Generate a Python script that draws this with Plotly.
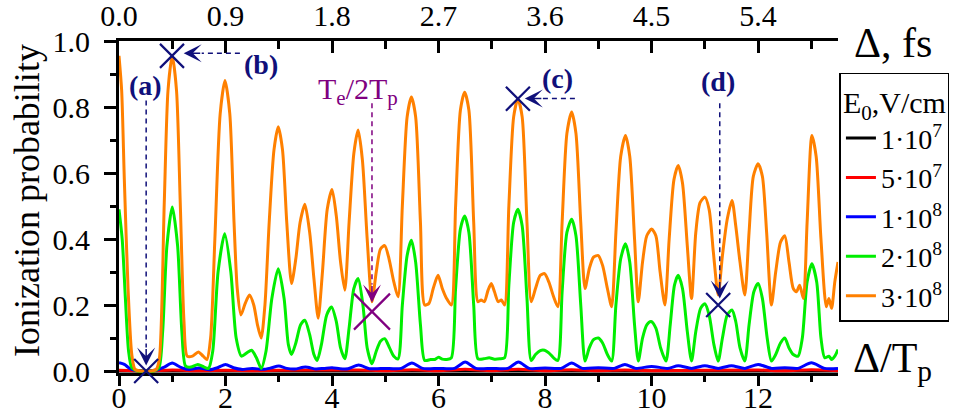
import plotly.graph_objects as go

# ---------------- data ----------------
TP_FS = 0.45  # one period Tp in fs (0.9 fs <-> 2 Tp)
x_range = [0, 13.5]

orange_x = [0.0, 0.05, 0.1, 0.17, 0.24, 0.3, 0.4, 0.5, 0.6, 0.7, 0.76, 0.85, 0.92, 1.0, 1.08, 1.15, 1.22, 1.28,
            1.38, 1.49, 1.58, 1.65, 1.72, 1.8, 1.9, 1.99, 2.08, 2.16, 2.22, 2.29, 2.37, 2.45, 2.53, 2.6, 2.67,
            2.74, 2.82, 2.91, 2.99, 3.07, 3.15, 3.24, 3.32, 3.4, 3.49, 3.58, 3.66, 3.74, 3.82, 3.91, 4.0, 4.08,
            4.16, 4.24, 4.32, 4.41, 4.49, 4.57, 4.66, 4.75, 4.83, 4.91, 4.99, 5.07, 5.16, 5.24, 5.32, 5.41, 5.49,
            5.57, 5.66, 5.74, 5.82, 5.9, 5.99, 6.07, 6.15, 6.24, 6.32, 6.41, 6.49, 6.57, 6.66, 6.74, 6.8, 6.86,
            6.93, 6.99, 7.05, 7.12, 7.18, 7.24, 7.32, 7.41, 7.49, 7.57, 7.66, 7.74, 7.82, 7.91, 7.99, 8.07, 8.16,
            8.24, 8.32, 8.41, 8.5, 8.58, 8.67, 8.75, 8.83, 8.91, 9.0, 9.08, 9.17, 9.25, 9.33, 9.42, 9.51, 9.59,
            9.68, 9.75, 9.83, 9.91, 10.0, 10.08, 10.16, 10.25, 10.33, 10.42, 10.5, 10.58, 10.67, 10.75, 10.83,
            10.91, 11.0, 11.08, 11.16, 11.25, 11.33, 11.42, 11.51, 11.58, 11.66, 11.75, 11.83, 11.91, 12.0, 12.08,
            12.16, 12.25, 12.33, 12.42, 12.5, 12.58, 12.66, 12.72, 12.78, 12.85, 12.92, 13.01, 13.09, 13.18,
            13.28, 13.33, 13.38, 13.44, 13.5]
orange_y = [0.955, 0.85, 0.58, 0.25, 0.05, 0.005, 0.0, 0.0, 0.0, 0.005, 0.04, 0.51, 0.85, 0.955, 0.85, 0.51, 0.15, 0.045,
            0.045, 0.058, 0.045, 0.035, 0.1, 0.4, 0.78, 0.88, 0.78, 0.45, 0.25, 0.17, 0.205, 0.23, 0.2, 0.14, 0.1,
            0.2, 0.45, 0.67, 0.74, 0.67, 0.45, 0.265, 0.34, 0.45, 0.505, 0.42, 0.28, 0.16, 0.3, 0.49, 0.55, 0.47,
            0.33, 0.245, 0.45, 0.66, 0.73, 0.64, 0.4, 0.21, 0.3, 0.37, 0.38, 0.34, 0.27, 0.225, 0.5, 0.77, 0.83,
            0.77, 0.45, 0.2, 0.205, 0.25, 0.29, 0.25, 0.22, 0.2, 0.5, 0.79, 0.845, 0.79, 0.45, 0.21, 0.215, 0.21,
            0.245, 0.265, 0.24, 0.21, 0.215, 0.2, 0.5, 0.77, 0.825, 0.77, 0.45, 0.21, 0.25, 0.29, 0.295, 0.27, 0.225,
            0.195, 0.45, 0.72, 0.785, 0.72, 0.45, 0.25, 0.31, 0.345, 0.35, 0.32, 0.25, 0.195, 0.42, 0.65, 0.714, 0.65,
            0.4, 0.21, 0.33, 0.41, 0.43, 0.41, 0.3, 0.2, 0.4, 0.58, 0.623, 0.57, 0.38, 0.22, 0.42,
            0.51, 0.527, 0.49, 0.36, 0.23, 0.35, 0.46, 0.517, 0.44, 0.33, 0.23, 0.42, 0.59, 0.628, 0.59,
            0.42, 0.2, 0.3, 0.39, 0.41, 0.33, 0.25, 0.24, 0.26, 0.22, 0.45, 0.714, 0.65, 0.4,
            0.195, 0.22, 0.19, 0.27, 0.33]

green_x = [0.0, 0.06, 0.12, 0.18, 0.24, 0.35, 0.5, 0.65, 0.75, 0.82, 0.9, 1.0, 1.1, 1.18, 1.25, 1.35, 1.48, 1.6, 1.68,
           1.76, 1.86, 1.985, 2.1, 2.2, 2.3, 2.4, 2.49, 2.58, 2.67, 2.76, 2.87, 2.99, 3.1, 3.18, 3.24, 3.32, 3.41,
           3.49, 3.58, 3.66, 3.72, 3.8, 3.9, 3.99, 4.08, 4.16, 4.24, 4.32, 4.41, 4.49, 4.58, 4.66, 4.75, 4.83, 4.91,
           4.99, 5.08, 5.16, 5.24, 5.32, 5.41, 5.49, 5.57, 5.66, 5.74, 5.85, 5.93, 6.0, 6.07, 6.15, 6.24, 6.32, 6.41,
           6.49, 6.57, 6.66, 6.74, 6.85, 6.95, 7.05, 7.15, 7.24, 7.32, 7.41, 7.49, 7.57, 7.66, 7.74, 7.82, 7.91,
           7.99, 8.07, 8.16, 8.24, 8.32, 8.41, 8.5, 8.58, 8.67, 8.75, 8.83, 8.91, 9.0, 9.08, 9.17, 9.25, 9.33, 9.42,
           9.51, 9.59, 9.68, 9.75, 9.83, 9.91, 9.99, 10.08, 10.17, 10.27, 10.35, 10.43, 10.5, 10.58, 10.67, 10.75,
           10.83, 10.92, 11.0, 11.08, 11.17, 11.25, 11.33, 11.42, 11.51, 11.58, 11.66, 11.75, 11.83, 11.92, 12.0,
           12.08, 12.17, 12.25, 12.33, 12.42, 12.5, 12.58, 12.66, 12.75, 12.83, 12.92, 13.01, 13.1, 13.18, 13.25,
           13.33, 13.38, 13.44, 13.5]
green_y = [0.49, 0.4, 0.22, 0.06, 0.01, 0.0, 0.0, 0.0, 0.01, 0.12, 0.38, 0.497, 0.38, 0.12, 0.015, 0.012, 0.02, 0.012, 0.008,
           0.06, 0.3, 0.416, 0.3, 0.1, 0.045, 0.055, 0.063, 0.04, 0.008, 0.06, 0.22, 0.31, 0.22, 0.08, 0.05, 0.085, 0.14,
           0.154, 0.11, 0.05, 0.032, 0.08, 0.17, 0.194, 0.15, 0.07, 0.037, 0.13, 0.25, 0.28, 0.2, 0.07, 0.022, 0.06, 0.09,
           0.098, 0.07, 0.045, 0.037, 0.2, 0.35, 0.396, 0.33, 0.14, 0.032, 0.035, 0.035, 0.042, 0.036, 0.035, 0.04, 0.25, 0.43,
           0.47, 0.42, 0.2, 0.037, 0.037, 0.04, 0.036, 0.037, 0.04, 0.26, 0.45, 0.49, 0.44, 0.22, 0.032, 0.05, 0.062,
           0.063, 0.055, 0.04, 0.032, 0.24, 0.42, 0.46, 0.41, 0.2, 0.03, 0.07, 0.095, 0.1, 0.085, 0.05, 0.03, 0.2, 0.34,
           0.386, 0.33, 0.14, 0.03, 0.1, 0.14, 0.15, 0.13, 0.07, 0.03, 0.14, 0.26, 0.29, 0.25, 0.12, 0.03,
           0.12, 0.19, 0.204, 0.17, 0.08, 0.03, 0.1, 0.17, 0.185, 0.15, 0.07, 0.03, 0.14, 0.24, 0.265,
           0.22, 0.1, 0.03, 0.05, 0.085, 0.1, 0.07, 0.05, 0.045, 0.1, 0.27, 0.325, 0.27, 0.1, 0.04,
           0.045, 0.035, 0.045, 0.065]

blue_x = [0.0, 0.1, 0.2, 0.3, 0.5, 0.7, 0.85, 1.0, 1.15, 1.3, 1.5, 1.7, 1.85, 2.0, 2.15, 2.3, 2.5, 2.7, 2.85, 3.0, 3.15,
          3.3, 3.5, 3.7, 3.85, 4.0, 4.15, 4.3, 4.5, 4.7, 4.85, 5.0, 5.15, 5.3, 5.5, 5.7, 6.0, 6.3, 6.5, 6.7, 7.0, 7.3,
          7.5, 7.7, 8.0, 8.3, 8.5, 8.7, 9.0, 9.3, 9.5, 9.7, 10.0, 10.3, 10.5, 10.75, 11.0, 11.25, 11.5, 11.75, 12.0,
          12.25, 12.5, 12.75, 13.0, 13.25, 13.5]
blue_y = [0.025, 0.02, 0.008, 0.002, 0.0, 0.003, 0.012, 0.024, 0.012, 0.005, 0.009, 0.004, 0.01, 0.02, 0.01, 0.005, 0.008,
          0.005, 0.009, 0.015, 0.008, 0.006, 0.012, 0.006, 0.008, 0.01, 0.007, 0.007, 0.018, 0.007, 0.007, 0.008, 0.007,
          0.008, 0.024, 0.008, 0.008, 0.008, 0.027, 0.008, 0.008, 0.008, 0.027, 0.008, 0.009, 0.008, 0.024, 0.008, 0.01,
          0.008, 0.02, 0.008, 0.014, 0.008, 0.016, 0.008, 0.016, 0.008, 0.016, 0.008, 0.02, 0.008, 0.01, 0.008, 0.025,
          0.008, 0.008]

red_x = [0.0, 0.5, 1.0, 1.5, 2.0, 2.5, 3.0, 4.5, 5.0, 5.5, 6.0, 6.5, 7.0, 7.5, 8.0, 8.5, 9.0, 9.5, 10.0, 12.0, 12.5,
         13.0, 13.5]
red_y = [0.002, 0.0, 0.003, 0.001, 0.002, 0.001, 0.002, 0.003, 0.001, 0.004, 0.001, 0.005, 0.001, 0.005, 0.001, 0.004,
         0.001, 0.003, 0.001, 0.003, 0.001, 0.004, 0.001]

black_x = [0.0, 13.5]
black_y = [0.0, 0.0]

series_names = ["1·10<sup>7</sup>", "5·10<sup>7</sup>", "1·10<sup>8</sup>", "2·10<sup>8</sup>", "3·10<sup>8</sup>"]
series_colors = ["#000000", "#ff0000", "#0000ff", "#00ee00", "#ff8000"]

# markers (crosses) and labelled arrows
cross_x = [0.51, 0.995, 7.49, 11.25]
cross_y = [0.0, 0.955, 0.825, 0.2]
te_cross_x = [4.75]
te_cross_y = [0.18]

label_text = ["(a)", "(b)", "(c)", "(d)"]
label_x = [0.50, 2.66, 8.24, 11.24]
label_y = [0.865, 0.93, 0.885, 0.878]
# dashed arrow: start point -> arrow tip
arrow_start_x = [0.51, 2.27, 8.56, 11.28]
arrow_start_y = [0.82, 0.963, 0.826, 0.811]
arrow_tip_x = [0.51, 1.215, 7.62, 11.28]
arrow_tip_y = [0.017, 0.963, 0.826, 0.22]

te_label = "T<sub>e</sub>/2T<sub>p</sub>"
te_label_x, te_label_y = 4.48, 0.85
te_start_y, te_tip_y = 0.811, 0.208

NAVY = "#10107a"
PURPLE = "#800080"
FONT = "Liberation Serif"

# ---------------- figure ----------------
fig = go.Figure()
all_x = [black_x, red_x, blue_x, green_x, orange_x]
all_y = [black_y, red_y, blue_y, green_y, orange_y]
for xs, ys, name, col in zip(all_x, all_y, series_names, series_colors):
    fig.add_trace(go.Scatter(x=xs, y=ys, mode="lines", name=name,
                             line=dict(color=col, width=3, shape="spline", smoothing=0.7)))

fig.add_trace(go.Scatter(x=cross_x, y=cross_y, mode="markers", showlegend=False,
                         marker=dict(symbol="x-thin", size=24, line=dict(width=2.2, color=NAVY)),
                         cliponaxis=False))
fig.add_trace(go.Scatter(x=te_cross_x, y=te_cross_y, mode="markers", showlegend=False,
                         marker=dict(symbol="x-thin", size=36, line=dict(width=2.2, color=PURPLE)),
                         cliponaxis=False))
# invisible trace to carry the top (fs) axis
fig.add_trace(go.Scatter(x=[v * TP_FS for v in x_range], y=[None, None], xaxis="x2",
                         showlegend=False, hoverinfo="skip"))

HEAD = 18  # px length of arrow head


def add_arrow(sx, sy, tx, ty, color):
    # dashed shaft
    if abs(sx - tx) < 1e-9:  # vertical
        end_y = ty + HEAD / 332.0
        fig.add_shape(type="line", x0=sx, y0=sy, x1=tx, y1=end_y, xref="x", yref="y",
                      line=dict(color=color, width=1.5, dash="5px,4px"))
        ax, ay = 0, -HEAD
    else:  # horizontal, pointing left
        end_x = tx + HEAD / 53.25
        fig.add_shape(type="line", x0=sx, y0=sy, x1=end_x, y1=ty, xref="x", yref="y",
                      line=dict(color=color, width=1.5, dash="5px,4px"))
        ax, ay = HEAD, 0
    fig.add_annotation(x=tx, y=ty, ax=ax, ay=ay, text="", showarrow=True, arrowhead=3,
                       arrowsize=2.0, arrowwidth=1.5, arrowcolor=color, standoff=0)


for t, lx, ly, sx, sy, tx, ty in zip(label_text, label_x, label_y, arrow_start_x, arrow_start_y,
                                      arrow_tip_x, arrow_tip_y):
    fig.add_annotation(x=lx, y=ly, text="<b>" + t + "</b>", showarrow=False,
                       font=dict(family=FONT, size=28, color=NAVY))
    add_arrow(sx, sy, tx, ty, NAVY)

fig.add_annotation(x=te_label_x, y=te_label_y, text=te_label, showarrow=False,
                   font=dict(family=FONT, size=30, color=PURPLE))
add_arrow(te_cross_x[0], te_start_y, te_cross_x[0], te_tip_y, PURPLE)

# axis name annotations
fig.add_annotation(xref="paper", yref="paper", x=1.077, y=0.995, text="Δ, fs", showarrow=False,
                   font=dict(family=FONT, size=42, color="black"), xanchor="center", yanchor="middle")
fig.add_annotation(xref="paper", yref="paper", x=1.076, y=0.035, text="Δ/T<sub>p</sub>", showarrow=False,
                   font=dict(family=FONT, size=42, color="black"), xanchor="center", yanchor="middle")
fig.add_annotation(xref="paper", yref="paper", x=-0.127, y=0.52, text="Ionization probability",
                   showarrow=False, textangle=-90,
                   font=dict(family=FONT, size=36, color="black"), xanchor="center", yanchor="middle")

axis_common = dict(showgrid=False, zeroline=False, showline=True, linecolor="black", linewidth=3,
                   automargin=False,
                   tickcolor="black", tickwidth=2.5, tickfont=dict(family=FONT, size=30, color="black"))

fig.update_layout(
    width=960, height=415,
    margin=dict(l=119, r=122, t=41, b=42, autoexpand=False),
    plot_bgcolor="white", paper_bgcolor="white",
    font=dict(family=FONT, color="black"),
    xaxis=dict(range=x_range, dtick=2, tick0=0, ticks="outside", ticklen=10, layer="below traces",
               ticklabelstandoff=-14,
               minor=dict(dtick=1, ticks="outside", ticklen=6, tickwidth=2.5, tickcolor="black"),
               **axis_common),
    xaxis2=dict(range=[v * TP_FS for v in x_range], overlaying="x", side="top", anchor="y",
                dtick=0.9, tick0=0, tickformat=".1f", ticks="inside", ticklen=12,
                minor=dict(dtick=0.45, ticks="inside", ticklen=8, tickwidth=2.5, tickcolor="black"),
                **axis_common),
    yaxis=dict(range=[-0.006, 1.0], dtick=0.2, tick0=0, tickformat=".1f", ticks="outside", ticklen=12,
               ticklabelstandoff=8,
               minor=dict(dtick=0.1, ticks="outside", ticklen=6, tickwidth=2.5, tickcolor="black"),
               **axis_common),
    legend=dict(x=1.002, y=0.904, xanchor="left", yanchor="top", bgcolor="white",
                bordercolor="black", borderwidth=1.5,
                font=dict(family=FONT, size=28, color="black"),
                title=dict(text="E<sub>0</sub>,V/cm", font=dict(family=FONT, size=30, color="black")),
                itemwidth=30),
    showlegend=True,
)

fig.write_html("out.html")
